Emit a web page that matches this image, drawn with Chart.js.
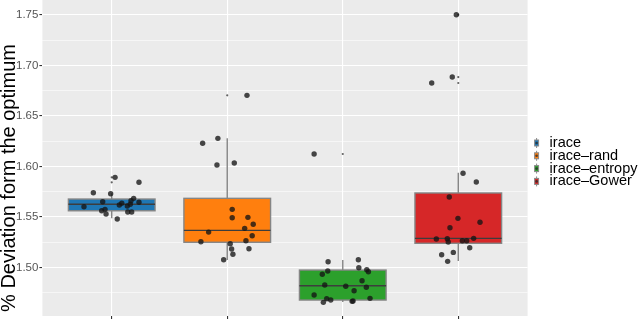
<!DOCTYPE html>
<html>
<head>
<meta charset="utf-8">
<script src="https://cdn.jsdelivr.net/npm/chart.js@4.4.1/dist/chart.umd.min.js"></script>
<style>
  html, body { margin: 0; padding: 0; background: #fff; }
  #wrap { width: 640px; height: 319px; }
</style>
</head>
<body>
<div id="wrap"><canvas id="chart"></canvas></div>
<script>
// ===== data =====
const categories = ['irace', 'irace–rand', 'irace–entropy', 'irace–Gower'];
const boxColors = ['#1f77b4', '#ff7f0e', '#2ca02c', '#d62728'];
const yTitle = '% Deviation form the optimum';

// box statistics
const boxLow    = [1.5487, 1.5074, 1.4658, 1.5064];
const boxQ1     = [1.5562, 1.5250, 1.4678, 1.5240];
const boxMedian = [1.5626, 1.5368, 1.4820, 1.5289];
const boxQ3     = [1.5678, 1.5685, 1.4975, 1.5738];
const boxHigh   = [1.5735, 1.6279, 1.5074, 1.5939];
const outliers  = [[1.5893, 1.5844], [1.6705], [1.6124], [1.7503, 1.6886, 1.6827]];

// jittered runs: offset from the category position, and value
const iraceOff = [0.029, 0.236, -0.159, -0.009, -0.078, -0.240, 0.066, 0.087, 0.135, 0.161,
                  0.167, 0.190, 0.236, -0.087, -0.058, -0.049, 0.139, 0.173, 0.048];
const iraceVal = [1.5893, 1.5844, 1.5741, 1.5731, 1.5651, 1.5602, 1.5619, 1.5636, 1.5609, 1.5626,
                  1.5661, 1.5685, 1.5646, 1.5562, 1.5576, 1.5530, 1.5550, 1.5550, 1.5480];

const randOff = [0.171, -0.213, -0.081, -0.089, 0.061, 0.043, 0.043, 0.179, 0.225, 0.151,
                 -0.161, 0.216, -0.228, 0.162, 0.026, 0.038, 0.188, 0.049, -0.031];
const randVal = [1.6705, 1.6230, 1.6279, 1.6015, 1.6035, 1.5576, 1.5493, 1.5497, 1.5428, 1.5388,
                 1.5351, 1.5315, 1.5255, 1.5265, 1.5236, 1.5183, 1.5186, 1.5131, 1.5077];

const entropyOff = [-0.248, -0.127, 0.135, 0.139, -0.130, -0.177, 0.208, 0.222, 0.167, -0.156,
                    0.026, 0.204, 0.098, -0.248, -0.139, -0.104, -0.168, 0.081, 0.089, 0.236];
const entropyVal = [1.6124, 1.5057, 1.5077, 1.4998, 1.4965, 1.4933, 1.4978, 1.4958, 1.4869, 1.4827,
                    1.4814, 1.4804, 1.4770, 1.4728, 1.4691, 1.4678, 1.4655, 1.4665, 1.4668, 1.4695];

const gowerOff = [-0.017, -0.052, -0.230, 0.041, 0.156, -0.078, -0.003, 0.188, -0.072, -0.190,
                  -0.095, -0.087, 0.035, 0.073, 0.133, 0.099, -0.144, -0.043, -0.092];
const gowerVal = [1.7503, 1.6886, 1.6827, 1.5933, 1.5847, 1.5698, 1.5487, 1.5448, 1.5394, 1.5282,
                  1.5285, 1.5252, 1.5265, 1.5265, 1.5289, 1.5196, 1.5127, 1.5150, 1.5061];

const yMin = 1.452, yMax = 1.7649;
const yStep = 0.025;

// ===== helpers =====
const jitterOff = [iraceOff, randOff, entropyOff, gowerOff];
const jitterVal = [iraceVal, randVal, entropyVal, gowerVal];
const isMajor = v => Math.abs(Math.round(v * 1000) % 50) < 1;
const FONT = '"Liberation Sans", Arial, sans-serif';

const panelBg = {
    id: 'panelBg',
    beforeDraw(chart) {
        const { ctx, chartArea: a } = chart;
        ctx.save();
        ctx.fillStyle = '#ebebeb';
        ctx.fillRect(a.left, a.top, a.right - a.left, a.bottom - a.top);
        ctx.restore();
    }
};

// boxes, whiskers and medians drawn through the chart's scales
const boxes = {
    id: 'boxes',
    beforeDatasetsDraw(chart) {
        const { ctx, scales: { x, y } } = chart;
        categories.forEach((c, i) => {
            const cx = x.getPixelForValue(i + 1);
            const l = x.getPixelForValue(i + 1 - 0.375);
            const r = x.getPixelForValue(i + 1 + 0.375);
            const top = y.getPixelForValue(boxQ3[i]);
            const bot = y.getPixelForValue(boxQ1[i]);
            const med = y.getPixelForValue(boxMedian[i]);
            ctx.save();
            ctx.strokeStyle = '#858585';
            ctx.lineWidth = 1.4;
            ctx.beginPath();
            ctx.moveTo(cx, y.getPixelForValue(boxHigh[i])); ctx.lineTo(cx, top);
            ctx.moveTo(cx, bot); ctx.lineTo(cx, y.getPixelForValue(boxLow[i]));
            ctx.stroke();
            ctx.fillStyle = boxColors[i];
            ctx.fillRect(l, top, r - l, bot - top);
            ctx.strokeRect(l, top, r - l, bot - top);
            ctx.strokeStyle = '#3d3d3d';
            ctx.beginPath();
            ctx.moveTo(l, med); ctx.lineTo(r, med);
            ctx.stroke();
            ctx.restore();
        });
    }
};

// legend on the right and the y title (sits a bit below the panel centre in the original)
const keys = {
    id: 'keys',
    afterDraw(chart) {
        const { ctx, chartArea: a } = chart;
        const kx = a.right + 9, tx = a.right + 22;
        ctx.save();
        ctx.font = '14.5px ' + FONT;
        ctx.textBaseline = 'middle';
        categories.forEach((c, i) => {
            const cy = 143 + i * 12.8;
            ctx.strokeStyle = '#8a8a8a';
            ctx.lineWidth = 1;
            ctx.beginPath(); ctx.moveTo(kx, cy - 5); ctx.lineTo(kx, cy + 5); ctx.stroke();
            ctx.fillStyle = boxColors[i];
            ctx.fillRect(kx - 2, cy - 3, 4, 6);
            ctx.strokeRect(kx - 2, cy - 3, 4, 6);
            ctx.fillStyle = 'rgba(40,40,40,0.8)';
            ctx.beginPath(); ctx.arc(kx, cy, 1.3, 0, Math.PI * 2); ctx.fill();
            ctx.fillStyle = '#000';
            ctx.fillText(c, tx, cy);
        });
        ctx.translate(9.5, 178);
        ctx.rotate(-Math.PI / 2);
        ctx.font = '20px ' + FONT;
        ctx.textAlign = 'center';
        ctx.fillText(yTitle, 0, 0);
        ctx.restore();
    }
};

const datasets = categories.map((c, i) => ({
    label: c,
    data: jitterVal[i].map((v, k) => ({ x: i + 1 + jitterOff[i][k], y: v })),
    pointRadius: 2.7,
    pointBackgroundColor: 'rgba(20,20,20,0.78)',
    pointBorderWidth: 0
}));
datasets.push({
    label: 'outliers',
    data: outliers.flatMap((arr, i) => arr.map(v => ({ x: i + 1, y: v }))),
    pointRadius: 1.1,
    pointBackgroundColor: 'rgba(60,60,60,0.8)',
    pointBorderWidth: 0
});

Chart.defaults.font.family = FONT;

new Chart(document.getElementById('chart'), {
    type: 'scatter',
    data: { datasets },
    options: {
        responsive: true, maintainAspectRatio: false, animation: false,
        devicePixelRatio: 1,
        layout: { autoPadding: false, padding: { left: 0, right: 112.4, top: 0, bottom: 0 } },
        plugins: { legend: { display: false }, tooltip: { enabled: false } },
        scales: {
            x: {
                type: 'linear', min: 0.4, max: 4.6,
                ticks: { stepSize: 1, includeBounds: false, display: false },
                grid: { color: '#ffffff', lineWidth: 1.1, tickLength: 3, tickColor: '#333' },
                border: { display: false },
                afterFit(s) { s.height = 3; s.paddingLeft = 0; s.paddingRight = 0; }
            },
            y: {
                min: yMin, max: yMax,
                ticks: {
                    stepSize: yStep, includeBounds: false, maxTicksLimit: 20, autoSkip: false,
                    padding: 1, color: '#555', font: { size: 11.5 },
                    callback: v => isMajor(v) ? v.toFixed(2) : ''
                },
                grid: {
                    color: '#ffffff',
                    lineWidth: c => isMajor(c.tick.value) ? 1.1 : 0.55,
                    tickLength: 3,
                    tickColor: c => isMajor(c.tick.value) ? '#333' : 'rgba(0,0,0,0)'
                },
                border: { display: false },
                afterFit(s) { s.width = 42.4; s.paddingTop = 0; s.paddingBottom = 0; }
            }
        }
    },
    plugins: [panelBg, boxes, keys]
});
</script>
</body>
</html>
